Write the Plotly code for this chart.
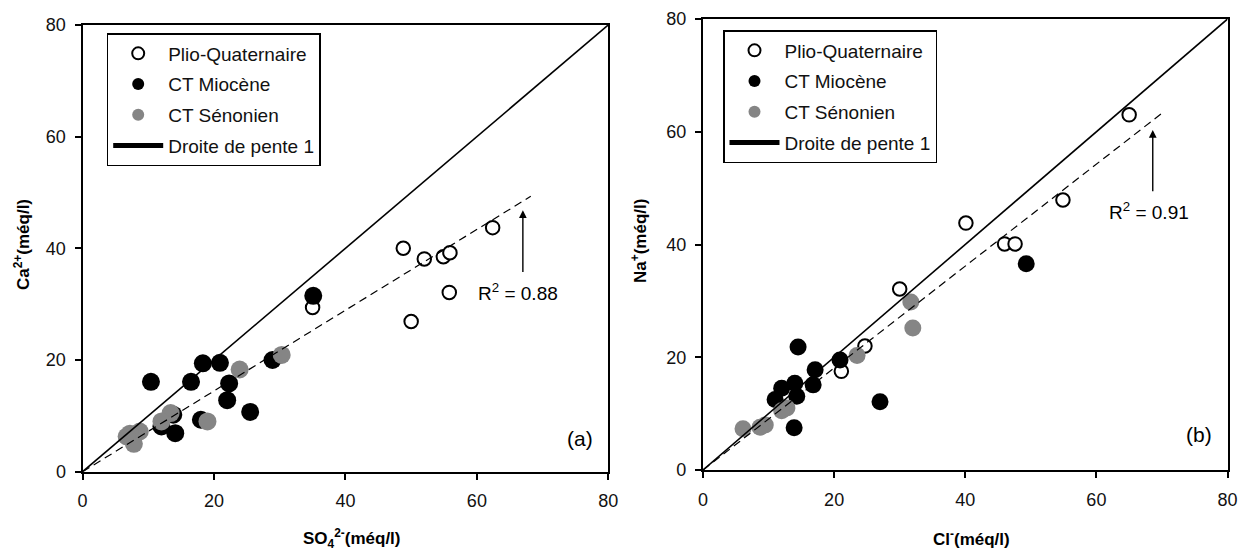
import plotly.graph_objects as go

# ---------- Panel (a): Ca2+ vs SO4 2- ----------
a_plio_x = [48.8, 52.0, 54.9, 55.9, 62.4, 55.8, 50.0, 35.0]
a_plio_y = [40.0, 38.1, 38.5, 39.2, 43.7, 32.1, 26.9, 29.4]
a_mio_x = [35.1, 10.4, 16.5, 18.3, 20.9, 22.3, 22.0, 25.5, 28.9, 18.0, 14.1, 12.0, 13.8]
a_mio_y = [31.5, 16.1, 16.1, 19.4, 19.5, 15.8, 12.8, 10.7, 20.0, 9.3, 6.9, 8.1, 10.2]
a_sen_x = [30.3, 23.9, 19.0, 13.4, 12.0, 8.7, 7.2, 7.8, 6.7]
a_sen_y = [20.9, 18.3, 9.0, 10.5, 9.0, 7.2, 6.8, 5.0, 6.3]
a_reg_x = [0, 68.2]
a_reg_y = [0, 49.3]

# ---------- Panel (b): Na+ vs Cl- ----------
b_plio_x = [65.0, 54.9, 40.1, 46.0, 47.6, 30.0, 24.7, 21.1]
b_plio_y = [63.0, 47.9, 43.8, 40.1, 40.1, 32.1, 22.0, 17.5]
b_mio_x = [49.3, 14.5, 20.9, 17.1, 16.8, 14.0, 12.0, 11.0, 14.3, 27.0, 13.9]
b_mio_y = [36.6, 21.8, 19.5, 17.8, 15.1, 15.4, 14.5, 12.5, 13.1, 12.1, 7.5]
b_sen_x = [31.7, 32.0, 23.5, 12.8, 12.0, 9.5, 8.7, 6.1]
b_sen_y = [29.8, 25.2, 20.3, 11.0, 10.5, 8.0, 7.6, 7.3]
b_reg_x = [0, 69.9]
b_reg_y = [0, 63.2]

one_x = [0, 80]
one_y = [0, 80]
ticks = [0, 20, 40, 60, 80]
tick_text = ["0", "20", "40", "60", "80"]

names = ["Plio-Quaternaire", "CT Miocène", "CT Sénonien", "Droite de pente 1"]

FONT = "Liberation Sans, Arial, sans-serif"
GRAY = "#858585"
W, H = 1231, 543  # page has an 8px body margin

fig = go.Figure()

def add_panel(xa, ya, leg, plio, mio, sen, reg, fsize):
    fig.add_trace(go.Scatter(
        x=plio[0], y=plio[1], mode="markers", name=names[0],
        xaxis=xa, yaxis=ya, legend=leg, legendgroup=leg + "1",
        marker=dict(size=13.5, color="white", line=dict(color="black", width=2))))
    fig.add_trace(go.Scatter(
        x=mio[0], y=mio[1], mode="markers", name=names[1],
        xaxis=xa, yaxis=ya, legend=leg, legendgroup=leg + "2",
        marker=dict(size=fsize, color="black", line=dict(width=0))))
    fig.add_trace(go.Scatter(
        x=sen[0], y=sen[1], mode="markers", name=names[2],
        xaxis=xa, yaxis=ya, legend=leg, legendgroup=leg + "3",
        marker=dict(size=fsize, color=GRAY, line=dict(width=0))))
    fig.add_trace(go.Scatter(
        x=one_x, y=one_y, mode="lines", name=names[3],
        xaxis=xa, yaxis=ya, legend=leg, legendgroup=leg + "4",
        line=dict(color="black", width=1.6)))
    fig.add_trace(go.Scatter(
        x=reg[0], y=reg[1], mode="lines", showlegend=False,
        xaxis=xa, yaxis=ya, legend=leg, legendgroup=leg + "5",
        line=dict(color="black", width=1.2, dash="8px,5px")))

add_panel("x", "y", "legend", (a_plio_x, a_plio_y), (a_mio_x, a_mio_y),
          (a_sen_x, a_sen_y), (a_reg_x, a_reg_y), 18)
add_panel("x2", "y2", "legend2", (b_plio_x, b_plio_y), (b_mio_x, b_mio_y),
          (b_sen_x, b_sen_y), (b_reg_x, b_reg_y), 17)

axis_common = dict(
    range=[0, 80], tickmode="array", tickvals=ticks, ticktext=tick_text,
    showgrid=False, zeroline=False, showline=True, linecolor="black",
    linewidth=2.2, mirror=True, ticks="outside", ticklen=6, tickwidth=2,
    tickcolor="black", tickfont=dict(family=FONT, size=18, color="#111"),
    automargin=False, fixedrange=True,
)

def px(xp):
    return (xp - 8) / W

def py(yp):
    return (H - (yp - 8)) / H

legend_common = dict(
    xanchor="left", yanchor="top", bgcolor="white", bordercolor="black",
    borderwidth=1.5, font=dict(family=FONT, size=19, color="#111"),
    tracegroupgap=3, itemwidth=50, itemsizing="constant",
)

fig.update_layout(
    width=W, height=H,
    margin=dict(l=0, r=0, t=0, b=0),
    paper_bgcolor="white", plot_bgcolor="white",
    font=dict(family=FONT, color="black"),
    xaxis=dict(domain=[px(82.6), px(608.3)], anchor="y", ticklabelstandoff=6, **axis_common),
    yaxis=dict(domain=[py(471.7), py(24.9)], anchor="x", ticklabelstandoff=5, **axis_common),
    xaxis2=dict(domain=[px(703), px(1227.5)], anchor="y2", ticklabelstandoff=6, **axis_common),
    yaxis2=dict(domain=[py(470), py(19)], anchor="x2", ticklabelstandoff=5, **axis_common),
    legend=dict(x=px(106.7), y=py(33), **legend_common),
    legend2=dict(x=px(723), y=py(30), **legend_common),
    showlegend=True,
)

TF = dict(family=FONT, size=17, color="black")
ann = []
# axis titles
ann.append(dict(text="<b>SO<sub>4</sub><sup>2-</sup>(méq/l)</b>", xref="paper", yref="paper",
                x=px(351.7), y=py(538), xanchor="center", yanchor="middle",
                showarrow=False, font=TF))
ann.append(dict(text="<b>Cl<sup>-</sup>(méq/l)</b>", xref="paper", yref="paper",
                x=px(971.7), y=py(538), xanchor="center", yanchor="middle",
                showarrow=False, font=TF))
ann.append(dict(text="<b>Ca<sup>2+</sup>(méq/l)</b>", xref="paper", yref="paper",
                x=px(22), y=py(245), xanchor="center", yanchor="middle",
                textangle=-90, showarrow=False, font=TF))
ann.append(dict(text="<b>Na<sup>+</sup>(méq/l)</b>", xref="paper", yref="paper",
                x=px(639), y=py(241), xanchor="center", yanchor="middle",
                textangle=-90, showarrow=False, font=TF))
# panel labels
ann.append(dict(text="(a)", xref="x", yref="y", x=75.7, y=5.9, showarrow=False,
                font=dict(family=FONT, size=21, color="black")))
ann.append(dict(text="(b)", xref="x2", yref="y2", x=75.7, y=6.3, showarrow=False,
                font=dict(family=FONT, size=21, color="black")))
# R2 labels
ann.append(dict(text="R<sup>2</sup> = 0.88", xref="x", yref="y", x=66.3, y=32.2,
                showarrow=False, font=dict(family=FONT, size=19, color="black")))
ann.append(dict(text="R<sup>2</sup> = 0.91", xref="x2", yref="y2", x=68.1, y=45.9,
                showarrow=False, font=dict(family=FONT, size=19, color="black")))
# arrows
ann.append(dict(text="", xref="x", yref="y", x=67.0, y=46.8, axref="x", ayref="y",
                ax=67.0, ay=35.5, showarrow=True, arrowhead=2, arrowsize=1.1,
                arrowwidth=1.4, arrowcolor="black"))
ann.append(dict(text="", xref="x2", yref="y2", x=68.6, y=60.3, axref="x2", ayref="y2",
                ax=68.6, ay=49.2, showarrow=True, arrowhead=2, arrowsize=1.1,
                arrowwidth=1.4, arrowcolor="black"))
fig.update_layout(annotations=ann)

fig.write_html("out.html")
